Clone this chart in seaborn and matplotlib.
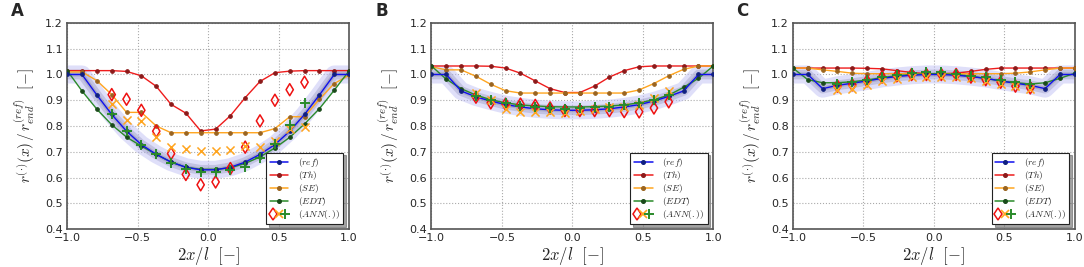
import numpy as np
import matplotlib
matplotlib.use("Agg")
import matplotlib.pyplot as plt
import seaborn as sns
from matplotlib.lines import Line2D
from matplotlib.legend_handler import HandlerTuple

sns.set_style("white")
plt.rcParams['font.family'] = ['DejaVu Sans']
plt.rcParams['mathtext.fontset'] = 'cm'

# positions 2x/l
x_pts = [-1.0, -0.895, -0.789, -0.684, -0.579, -0.474, -0.368, -0.263, -0.158, -0.053,
         0.053, 0.158, 0.263, 0.368, 0.474, 0.579, 0.684, 0.789, 0.895, 1.0]
x_ann = x_pts[3:17]

# panel A
ref_A = [1.0, 1.0, 0.92, 0.845, 0.78, 0.728, 0.69, 0.66, 0.64, 0.63,
         0.63, 0.64, 0.66, 0.69, 0.728, 0.78, 0.845, 0.92, 1.0, 1.0]
th_A = [1.015, 1.015, 1.015, 1.015, 1.012, 0.995, 0.954, 0.884, 0.85, 0.781,
        0.788, 0.84, 0.91, 0.973, 1.007, 1.013, 1.015, 1.015, 1.015, 1.015]
se_A = [1.01, 1.01, 0.976, 0.922, 0.853, 0.853, 0.80, 0.774, 0.774, 0.774,
        0.774, 0.774, 0.774, 0.774, 0.79, 0.836, 0.836, 0.904, 0.965, 0.997]
edt_A = [1.015, 0.936, 0.865, 0.805, 0.757, 0.722, 0.69, 0.66, 0.64, 0.632,
         0.632, 0.638, 0.655, 0.68, 0.715, 0.756, 0.808, 0.867, 0.939, 1.014]
ann_d_A = [0.922, 0.904, 0.861, 0.78, 0.693, 0.612, 0.572, 0.583, 0.635, 0.718, 0.82, 0.90, 0.941, 0.97]
ann_x_A = [0.887, 0.822, 0.818, 0.757, 0.72, 0.71, 0.705, 0.705, 0.707, 0.722, 0.72, 0.74, 0.79, 0.797]
ann_p_A = [0.845, 0.78, 0.727, 0.69, 0.657, 0.635, 0.623, 0.62, 0.628, 0.642, 0.675, 0.73, 0.805, 0.888]

# panel B
ref_B = [1.0, 1.0, 0.936, 0.913, 0.897, 0.883, 0.874, 0.867, 0.863, 0.861,
         0.861, 0.863, 0.867, 0.874, 0.883, 0.897, 0.915, 0.936, 1.0, 1.0]
th_B = [1.033, 1.033, 1.033, 1.033, 1.032, 1.025, 1.005, 0.975, 0.945, 0.93,
        0.93, 0.955, 0.99, 1.015, 1.03, 1.033, 1.033, 1.033, 1.033, 1.033]
se_B = [1.03, 1.018, 1.018, 0.993, 0.962, 0.937, 0.928, 0.928, 0.928, 0.928,
        0.928, 0.928, 0.928, 0.928, 0.94, 0.965, 0.995, 1.02, 1.033, 1.033]
edt_B = [1.033, 0.982, 0.945, 0.92, 0.902, 0.89, 0.882, 0.878, 0.875, 0.874,
         0.874, 0.875, 0.878, 0.882, 0.89, 0.902, 0.92, 0.95, 0.985, 1.033]
ann_d_B = [0.912, 0.89, 0.885, 0.885, 0.88, 0.87, 0.86, 0.86, 0.86, 0.86, 0.856, 0.855, 0.87, 0.894]
ann_x_B = [0.93, 0.9, 0.868, 0.855, 0.855, 0.853, 0.852, 0.86, 0.865, 0.875, 0.875, 0.88, 0.91, 0.937]
ann_p_B = [0.917, 0.9, 0.888, 0.879, 0.875, 0.87, 0.868, 0.87, 0.872, 0.875, 0.88, 0.888, 0.902, 0.92]

# panel C
ref_C = [1.0, 1.0, 0.945, 0.958, 0.966, 0.975, 0.985, 0.992, 0.997, 1.0,
         1.0, 0.997, 0.992, 0.985, 0.975, 0.966, 0.958, 0.945, 1.0, 1.0]
th_C = [1.025, 1.025, 1.025, 1.025, 1.025, 1.024, 1.022, 1.015, 1.008, 1.003,
        1.003, 1.005, 1.012, 1.02, 1.025, 1.025, 1.025, 1.025, 1.025, 1.025]
se_C = [1.025, 1.025, 1.018, 1.012, 1.005, 1.003, 1.003, 1.003, 1.003, 1.003,
        1.003, 1.003, 1.003, 1.003, 1.003, 1.005, 1.01, 1.018, 1.025, 1.025]
edt_C = [1.025, 0.98, 0.968, 0.968, 0.972, 0.978, 0.988, 0.995, 1.0, 1.003,
         1.003, 1.0, 0.993, 0.985, 0.975, 0.968, 0.963, 0.968, 0.985, 1.005]
ann_d_C = [0.955, 0.96, 0.975, 0.99, 0.995, 1.0, 1.0, 1.0, 1.0, 0.99, 0.98, 0.97, 0.955, 0.948]
ann_x_C = [0.938, 0.945, 0.96, 0.975, 0.982, 0.99, 0.992, 0.992, 0.99, 0.985, 0.975, 0.965, 0.955, 0.945]
ann_p_C = [0.965, 0.97, 0.98, 0.99, 0.998, 1.005, 1.008, 1.008, 1.003, 0.995, 0.99, 0.978, 0.97, 0.962]

panels = [
    ("A", ref_A, th_A, se_A, edt_A, ann_d_A, ann_x_A, ann_p_A),
    ("B", ref_B, th_B, se_B, edt_B, ann_d_B, ann_x_B, ann_p_B),
    ("C", ref_C, th_C, se_C, edt_C, ann_d_C, ann_x_C, ann_p_C),
]

c_ref, c_th, c_se, c_edt = '#1010ee', '#ee1c1c', '#ffa51f', '#2a8a2a'
m_ref, m_th, m_se, m_edt = '#102080', '#8b1a1a', '#9a6420', '#1a4a1a'

fig = plt.figure(figsize=(10.84, 2.67), dpi=100)
lefts = [0.062, 0.398, 0.7315]

for (letter, ref, th, se, edt, ad, ax_, ap), left in zip(panels, lefts):
    ax = fig.add_axes([left, 0.142, 0.26, 0.772])

    # uncertainty band around reference
    sns.lineplot(x=x_pts, y=ref, ax=ax, color='#c0c0f4', lw=13, alpha=0.5,
                 solid_joinstyle='round', legend=False, zorder=1)
    sns.lineplot(x=x_pts, y=ref, ax=ax, color='#9898c0', lw=7, alpha=0.4,
                 solid_joinstyle='round', legend=False, zorder=1)
    sns.lineplot(x=x_pts, y=ref, ax=ax, color='#707090', lw=3, alpha=0.3,
                 solid_joinstyle='round', legend=False, zorder=1)

    lkw = dict(marker='o', markersize=2.6, lw=1.0, zorder=3)
    sns.lineplot(x=x_pts, y=th, ax=ax, color=c_th, mec=m_th, mfc=m_th, **lkw)
    sns.lineplot(x=x_pts, y=se, ax=ax, color=c_se, mec=m_se, mfc=m_se, **lkw)
    sns.lineplot(x=x_pts, y=edt, ax=ax, color=c_edt, mec=m_edt, mfc=m_edt, **lkw)
    sns.lineplot(x=x_pts, y=ref, ax=ax, color=c_ref, mec=m_ref, mfc=m_ref, **lkw)

    sns.scatterplot(x=x_ann, y=ad, ax=ax, marker='d', s=38, facecolor='none',
                    edgecolor='#ee1111', linewidth=1.1, zorder=4)
    sns.scatterplot(x=x_ann, y=ax_, ax=ax, marker='x', s=34, color='#ffa51f',
                    linewidth=1.1, zorder=4)
    sns.scatterplot(x=x_ann, y=ap, ax=ax, marker='+', s=50, color='#2a8a2a',
                    linewidth=1.4, zorder=5)

    ax.set_xlim(-1.0, 1.0)
    ax.set_ylim(0.4, 1.2)
    ax.set_xticks([-1.0, -0.5, 0.0, 0.5, 1.0])
    ax.set_xticklabels(['\u22121.0', '\u22120.5', '0.0', '0.5', '1.0'])
    ax.set_yticks(np.arange(0.4, 1.21, 0.1))
    ax.set_yticklabels(['%.1f' % v for v in np.arange(0.4, 1.21, 0.1)])
    ax.tick_params(labelsize=8, direction='in', length=3, color='#333333', pad=3)
    ax.grid(True, linestyle=':', color='#aaaaaa', lw=0.8)
    for sp in ax.spines.values():
        sp.set_color('#555555')
        sp.set_linewidth(1.2)

    ax.set_xlabel(r'$2x/l\ \ [-]$', fontsize=12, labelpad=1)
    ax.set_ylabel(r'$r^{(\cdot)}(x)\,/\,r_{end}^{(ref)}\ \ [-]$', fontsize=11, labelpad=6)

    ax.text(-0.2, 1.06, letter, transform=ax.transAxes, fontsize=12,
            fontweight='bold', va='center', ha='left')

    h = [Line2D([], [], color=c, marker='o', markersize=2.6, mec=m, mfc=m, lw=1.1)
         for c, m in [(c_ref, m_ref), (c_th, m_th), (c_se, m_se), (c_edt, m_edt)]]
    ann_h = (Line2D([], [], ls='none', marker='d', mfc='none', mec='#ee1111', ms=6, mew=1.1),
             Line2D([], [], ls='none', marker='x', mfc='#ffa51f', mec='#ffa51f', ms=5.5, mew=1.2),
             Line2D([], [], ls='none', marker='+', mfc='#2a8a2a', mec='#2a8a2a', ms=6.5, mew=1.4))
    leg = ax.legend(h + [ann_h],
                    [r'$(ref)$', r'$(Th)$', r'$(SE)$', r'$(EDT)$', r'$(ANN(.))$'],
                    handler_map={tuple: HandlerTuple(ndivide=None, pad=0.0)},
                    loc='lower right', fontsize=6.8, handlelength=2.0,
                    labelspacing=0.0, borderpad=0.35, handletextpad=1.0,
                    borderaxespad=0.3, frameon=True, fancybox=False, shadow=True,
                    bbox_to_anchor=(0.99, 0.01))
    leg.get_frame().set_edgecolor('#222222')
    leg.get_frame().set_linewidth(0.8)
    leg.set_zorder(10)

fig.savefig('out.png', dpi=100)
